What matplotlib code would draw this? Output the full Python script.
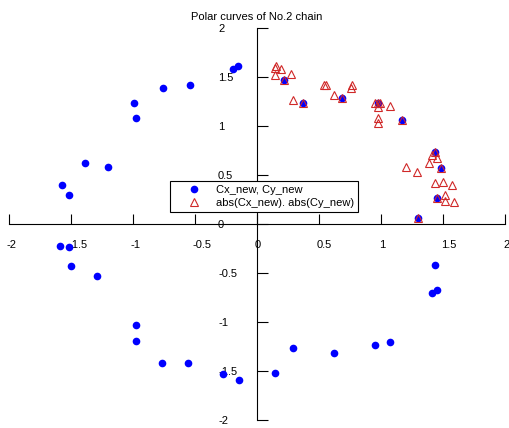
import numpy as np
import matplotlib
matplotlib.use('Agg')
import matplotlib.pyplot as plt
import matplotlib.transforms as mtransforms

plt.rcParams['font.family'] = ['Liberation Sans', 'DejaVu Sans']

# chain centre coordinates, read quadrant by quadrant
Cx_new = [-1.576, -1.516, -1.387, -1.199, -0.989, -0.976, -0.758, -0.543, -0.191, -0.153,
          -1.589, -1.513, -1.500, -1.290, -0.976, -0.976, -0.764, -0.554, -0.277, -0.145,
          0.145, 0.293, 0.624, 0.952, 1.075, 1.411, 1.454, 1.438,
          0.215, 0.371, 0.685, 0.976, 1.167, 1.438, 1.484, 1.452, 1.296]
Cy_new = [0.400, 0.300, 0.620, 0.580, 1.230, 1.080, 1.385, 1.420, 1.580, 1.615,
          -0.220, -0.233, -0.425, -0.530, -1.030, -1.195, -1.420, -1.420, -1.526, -1.594,
          -1.516, -1.262, -1.317, -1.232, -1.205, -0.702, -0.675, -0.418,
          1.473, 1.233, 1.290, 1.236, 1.064, 0.737, 0.567, 0.263, 0.060]

ticks = [-2, -1.5, -1, -0.5, 0, 0.5, 1, 1.5, 2]
tick_labels = ['-2', '-1.5', '-1', '-0.5', '0', '0.5', '1', '1.5', '2']

Cx_new = np.array(Cx_new)
Cy_new = np.array(Cy_new)

fig = plt.figure(figsize=(5.1, 4.28), dpi=100)
ax = fig.add_axes([9/510, 8/428, 496/510, 392/428])

ax.plot(Cx_new, Cy_new, 'o', color='#0000ff', markersize=5.5, markeredgewidth=0,
        label='Cx_new, Cy_new')
ax.plot(np.abs(Cx_new), np.abs(Cy_new), '^', markerfacecolor='none',
        markeredgecolor='#d02828', markersize=6.3, markeredgewidth=0.8,
        label='abs(Cx_new). abs(Cy_new)')

ax.set_xlim(-2, 2)
ax.set_ylim(-2, 2)

# axes through the origin
ax.spines['left'].set_position('zero')
ax.spines['bottom'].set_position('zero')
ax.spines['top'].set_visible(False)
ax.spines['right'].set_visible(False)
for s in ('left', 'bottom'):
    ax.spines[s].set_linewidth(0.8)

ax.set_xticks(ticks)
ax.set_xticklabels(tick_labels)
ax.set_yticks(ticks)
ax.set_yticklabels(tick_labels)
ax.tick_params(axis='x', direction='in', length=7.5, width=0.8, pad=11.5, labelsize=8)
ax.tick_params(axis='y', direction='in', length=8, width=0.8, pad=28, labelsize=8)
shift = mtransforms.ScaledTranslation(-2/100, 0, fig.dpi_scale_trans)
for lab in ax.get_xticklabels():
    lab.set_horizontalalignment('left')
    lab.set_transform(lab.get_transform() + shift)
for lab in ax.get_yticklabels():
    lab.set_horizontalalignment('left')

ax.set_title('Polar curves of No.2 chain', fontsize=8, pad=6)

leg = ax.legend(loc='upper left', bbox_to_anchor=(170/510, 1 - 181/428),
                bbox_transform=fig.transFigure, fontsize=8, numpoints=1,
                fancybox=False, framealpha=1, edgecolor='black', borderaxespad=0,
                borderpad=0.35, handlelength=3.6, handletextpad=0.15,
                labelspacing=0.3)
leg.get_frame().set_linewidth(0.8)
leg.set_zorder(5)

fig.savefig('out.png', dpi=100, facecolor='white')
